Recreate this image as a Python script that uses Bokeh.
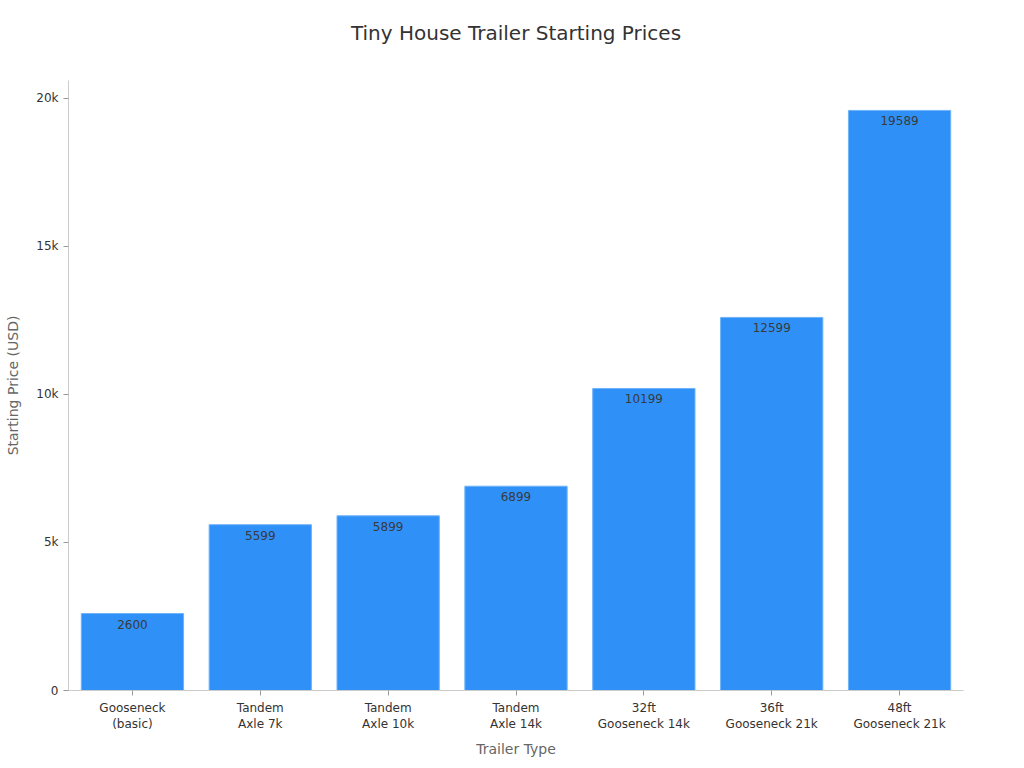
from bokeh.plotting import figure
from bokeh.models import ColumnDataSource, LabelSet, Title, CustomJSTickFormatter
from bokeh.core.properties import value
from bokeh.embed import file_html
from bokeh.resources import INLINE

title_text = "Tiny House Trailer Starting Prices"
categories = ["Gooseneck\n(basic)", "Tandem\nAxle 7k", "Tandem\nAxle 10k", "Tandem\nAxle 14k",
              "32ft\nGooseneck 14k", "36ft\nGooseneck 21k", "48ft\nGooseneck 21k"]
prices = [2600, 5599, 5899, 6899, 10199, 12599, 19589]
labels = [str(v) for v in prices]

src = ColumnDataSource(dict(cat=categories, price=prices, label=labels))

FONT = "DejaVu Sans"
p = figure(x_range=categories, y_range=(0, 20600), width=1016, height=760,
           output_backend="svg", toolbar_location=None,
           min_border_left=68, min_border_right=53, min_border_bottom=68, min_border_top=80)

# spacer (closest to frame), then the real title above it
p.add_layout(Title(text=" ", text_font_size="10px", standoff=18), "above")
p.add_layout(Title(text=title_text, align="center", text_font=FONT, text_font_size="20px",
                   text_font_style="normal", text_color="#333333", standoff=10, offset=0), "above")

p.vbar(x="cat", top="price", width=0.8, source=src, fill_color="#2f91f8",
       line_color="#6fb3f9", line_width=1)

p.add_layout(LabelSet(x="cat", y="price", text="label", source=src, text_align="center",
                      text_baseline="top", y_offset=-6, text_font=value(FONT),
                      text_font_size="12px", text_color="#3a3a3a"))

p.xgrid.visible = False
p.ygrid.visible = False
p.outline_line_color = None

for ax in (p.xaxis, p.yaxis):
    ax.axis_line_color = "#cccccc"
    ax.major_tick_line_color = "#999999"
    ax.minor_tick_line_color = None
    ax.major_tick_in = 0
    ax.major_tick_out = 5
    ax.major_label_text_font = FONT
    ax.major_label_text_font_size = "12px"
    ax.major_label_text_color = "#333333"
    ax.axis_label_text_font = FONT
    ax.axis_label_text_font_size = "14px"
    ax.axis_label_text_font_style = "normal"
    ax.axis_label_text_color = "#666666"

p.xaxis.axis_label = "Trailer Type"
p.yaxis.axis_label = "Starting Price (USD)"
p.xaxis.axis_label_standoff = 7
p.yaxis.axis_label_standoff = 12
p.yaxis.ticker = [0, 5000, 10000, 15000, 20000]
p.yaxis.formatter = CustomJSTickFormatter(code="return tick == 0 ? '0' : (tick/1000) + 'k';")
p.x_range.range_padding = 0

open("out.html", "w").write(file_html(p, INLINE))
